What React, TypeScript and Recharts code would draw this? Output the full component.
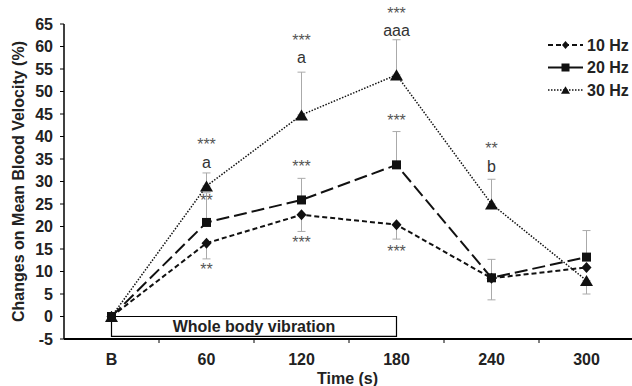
import React from 'react';
import {
  ComposedChart,
  Line,
  XAxis,
  YAxis,
  ErrorBar,
  ReferenceArea,
  ReferenceDot,
  Legend,
} from 'recharts';

const FONT = '"Liberation Sans", Arial, Helvetica, sans-serif';

// time points (s), B = baseline
const timePoints = [0, 60, 120, 180, 240, 300];
const timeLabels = ['B', '60', '120', '180', '240', '300'];

const hz10 = [0, 16.3, 22.6, 20.4, 8.5, 10.9];
const hz20 = [0, 20.9, 25.9, 33.7, 8.6, 13.2];
const hz30 = [0, 29.0, 44.8, 53.7, 25.0, 8.0];

// [below, above] error lengths
const err10 = [[0, 0], [3.5, 0], [3.7, 0], [3.2, 0], [4.8, 0], [0, 0]];
const err20 = [[0, 0], [0, 6.6], [0, 4.8], [0, 7.4], [0, 4.1], [0, 5.9]];
const err30 = [[0, 0], [0, 2.9], [0, 9.5], [0, 7.8], [0, 5.5], [3.0, 0]];

const yTicks = [-5, 0, 5, 10, 15, 20, 25, 30, 35, 40, 45, 50, 55, 60, 65];
const xTicks = [-30, 0, 30, 60, 90, 120, 150, 180, 210, 240, 270, 300, 330];

const annotations = [
  { t: 60, v: 38.9, text: '***' },
  { t: 60, v: 34.0, text: 'a' },
  { t: 60, v: 26.6, text: '**' },
  { t: 60, v: 11.3, text: '**' },
  { t: 120, v: 62.2, text: '***' },
  { t: 120, v: 57.2, text: 'a' },
  { t: 120, v: 34.2, text: '***' },
  { t: 120, v: 17.2, text: '***' },
  { t: 180, v: 68.2, text: '***' },
  { t: 180, v: 63.3, text: 'aaa' },
  { t: 180, v: 44.4, text: '***' },
  { t: 180, v: 15.3, text: '***' },
  { t: 240, v: 38.2, text: '**' },
  { t: 240, v: 33.4, text: 'b' },
];

const seriesNames = ['10 Hz', '20 Hz', '30 Hz'];

const rows = timePoints.map((t, i) => ({
  t,
  hz10: hz10[i],
  hz20: hz20[i],
  hz30: hz30[i],
  e10: err10[i],
  e20: err20[i],
  e30: err30[i],
}));

const PLOT_BOTTOM = 339;

const Diamond = ({ cx, cy, s = 5 }: any) => (
  <path d={`M${cx},${cy - s - 0.5}L${cx + s},${cy}L${cx},${cy + s + 0.5}L${cx - s},${cy}Z`} fill="#111" />
);
const Square = ({ cx, cy, s = 4.5 }: any) => (
  <rect x={cx - s} y={cy - s} width={s * 2} height={s * 2} fill="#111" />
);
const Triangle = ({ cx, cy, s = 6.5 }: any) => (
  <path d={`M${cx},${cy - s * 0.85}L${cx + s},${cy + s * 0.85}L${cx - s},${cy + s * 0.85}Z`} fill="#111" />
);

const XTick = ({ x, payload }: any) => {
  const idx = timePoints.indexOf(payload.value);
  if (idx >= 0) {
    return (
      <text x={x} y={PLOT_BOTTOM + 26} textAnchor="middle" fontFamily={FONT} fontSize={16} fontWeight="bold" fill="#222">
        {timeLabels[idx]}
      </text>
    );
  }
  if (payload.value <= -30) return <g />;
  return <line x1={x} x2={x} y1={PLOT_BOTTOM} y2={PLOT_BOTTOM + 4} stroke="#000" strokeWidth={1} />;
};

const Annotation = ({ cx, cy, text }: any) => {
  const star = text.startsWith('*');
  const off = star ? 9 : text === 'b' ? 6 : 4;
  return (
    <text x={cx} y={cy + off} textAnchor="middle" fontFamily={FONT} fontSize={16} fill={star ? '#555' : '#333'}>
      {text}
    </text>
  );
};

const legendStyles = [
  { dash: '5 3', width: 2, Marker: Diamond, s: 3.5 },
  { dash: '', width: 2.2, Marker: Square, s: 4 },
  { dash: '1.5 1.5', width: 1.5, Marker: Triangle, s: 4.5 },
];

const LegendBox = () => (
  <svg width={90} height={70} style={{ display: 'block' }}>
    {seriesNames.map((name, i) => {
      const st = legendStyles[i];
      const cy = 11 + i * 22.5;
      const M = st.Marker;
      return (
        <g key={name}>
          <line x1={2} x2={37} y1={cy} y2={cy} stroke="#111" strokeWidth={st.width} strokeDasharray={st.dash || undefined} />
          <M cx={19.5} cy={cy} s={st.s} />
          <text x={41} y={cy + 5.8} fontFamily={FONT} fontSize={16} fontWeight="bold" fill="#222">
            {name}
          </text>
        </g>
      );
    })}
  </svg>
);

export default function App() {
  return (
    <div style={{ position: 'absolute', left: 0, top: 0, width: 632, height: 386, overflow: 'hidden', background: '#fff' }}>
      <ComposedChart width={634} height={386} data={rows} margin={{ top: 24, right: 0, bottom: 0, left: 0 }}>
        <XAxis
          type="number"
          dataKey="t"
          domain={[-30, 330]}
          ticks={xTicks}
          interval={0}
          height={47}
          tickLine={false}
          axisLine={{ stroke: '#000', strokeWidth: 2 }}
          tick={<XTick />}
          label={{
            content: () => (
              <text x={347.5} y={383.5} textAnchor="middle" fontFamily={FONT} fontSize={16} fontWeight="bold" fill="#222">
                Time (s)
              </text>
            ),
          }}
        />
        <YAxis
          type="number"
          domain={[-5, 65]}
          ticks={yTicks}
          interval={0}
          allowDataOverflow
          width={64}
          tickSize={4}
          tickMargin={7}
          axisLine={{ stroke: '#000', strokeWidth: 1.5 }}
          tickLine={{ stroke: '#000' }}
          tick={{ fontSize: 16, fontWeight: 'bold', fill: '#222', fontFamily: FONT }}
          label={{
            content: () => (
              <text
                x={24}
                y={181.5}
                transform="rotate(-90 24 181.5)"
                textAnchor="middle"
                fontFamily={FONT}
                fontSize={16}
                fontWeight="bold"
                fill="#222"
              >
                Changes on Mean Blood Velocity (%)
              </text>
            ),
          }}
        />
        <ReferenceArea
          x1={0}
          x2={180}
          y1={-4.4}
          y2={0}
          fill="#fff"
          fillOpacity={1}
          stroke="#000"
          strokeWidth={1.2}
          ifOverflow="visible"
          label={{ value: 'Whole body vibration', position: 'center', fontSize: 16, fontWeight: 'bold', fill: '#222', fontFamily: FONT }}
        />
        <Line
          dataKey="hz10"
          name="10 Hz"
          stroke="#111"
          strokeWidth={2}
          strokeDasharray="5 3"
          dot={(p: any) => <Diamond key={`d10-${p.index}`} cx={p.cx} cy={p.cy} />}
          activeDot={false}
          isAnimationActive={false}
        >
          <ErrorBar dataKey="e10" direction="y" width={4} stroke="#aaa" strokeWidth={1} isAnimationActive={false} />
        </Line>
        <Line
          dataKey="hz20"
          name="20 Hz"
          stroke="#111"
          strokeWidth={2}
          strokeDasharray="13 5"
          dot={(p: any) => <Square key={`d20-${p.index}`} cx={p.cx} cy={p.cy} />}
          activeDot={false}
          isAnimationActive={false}
        >
          <ErrorBar dataKey="e20" direction="y" width={4} stroke="#aaa" strokeWidth={1} isAnimationActive={false} />
        </Line>
        <Line
          dataKey="hz30"
          name="30 Hz"
          stroke="#111"
          strokeWidth={1.5}
          strokeDasharray="1.5 1.5"
          dot={(p: any) => <Triangle key={`d30-${p.index}`} cx={p.cx} cy={p.cy} />}
          activeDot={false}
          isAnimationActive={false}
        >
          <ErrorBar dataKey="e30" direction="y" width={4} stroke="#aaa" strokeWidth={1} isAnimationActive={false} />
        </Line>
        {annotations.map((a, i) => (
          <ReferenceDot
            key={`ann-${i}`}
            x={a.t}
            y={a.v}
            r={0}
            ifOverflow="visible"
            shape={(p: any) => <Annotation cx={p.cx} cy={p.cy} text={a.text} />}
          />
        ))}
        <Legend
          layout="vertical"
          align="center"
          verticalAlign="middle"
          content={() => <LegendBox />}
          wrapperStyle={{ position: 'absolute', left: 546, top: 34, width: 90 }}
        />
      </ComposedChart>
    </div>
  );
}
